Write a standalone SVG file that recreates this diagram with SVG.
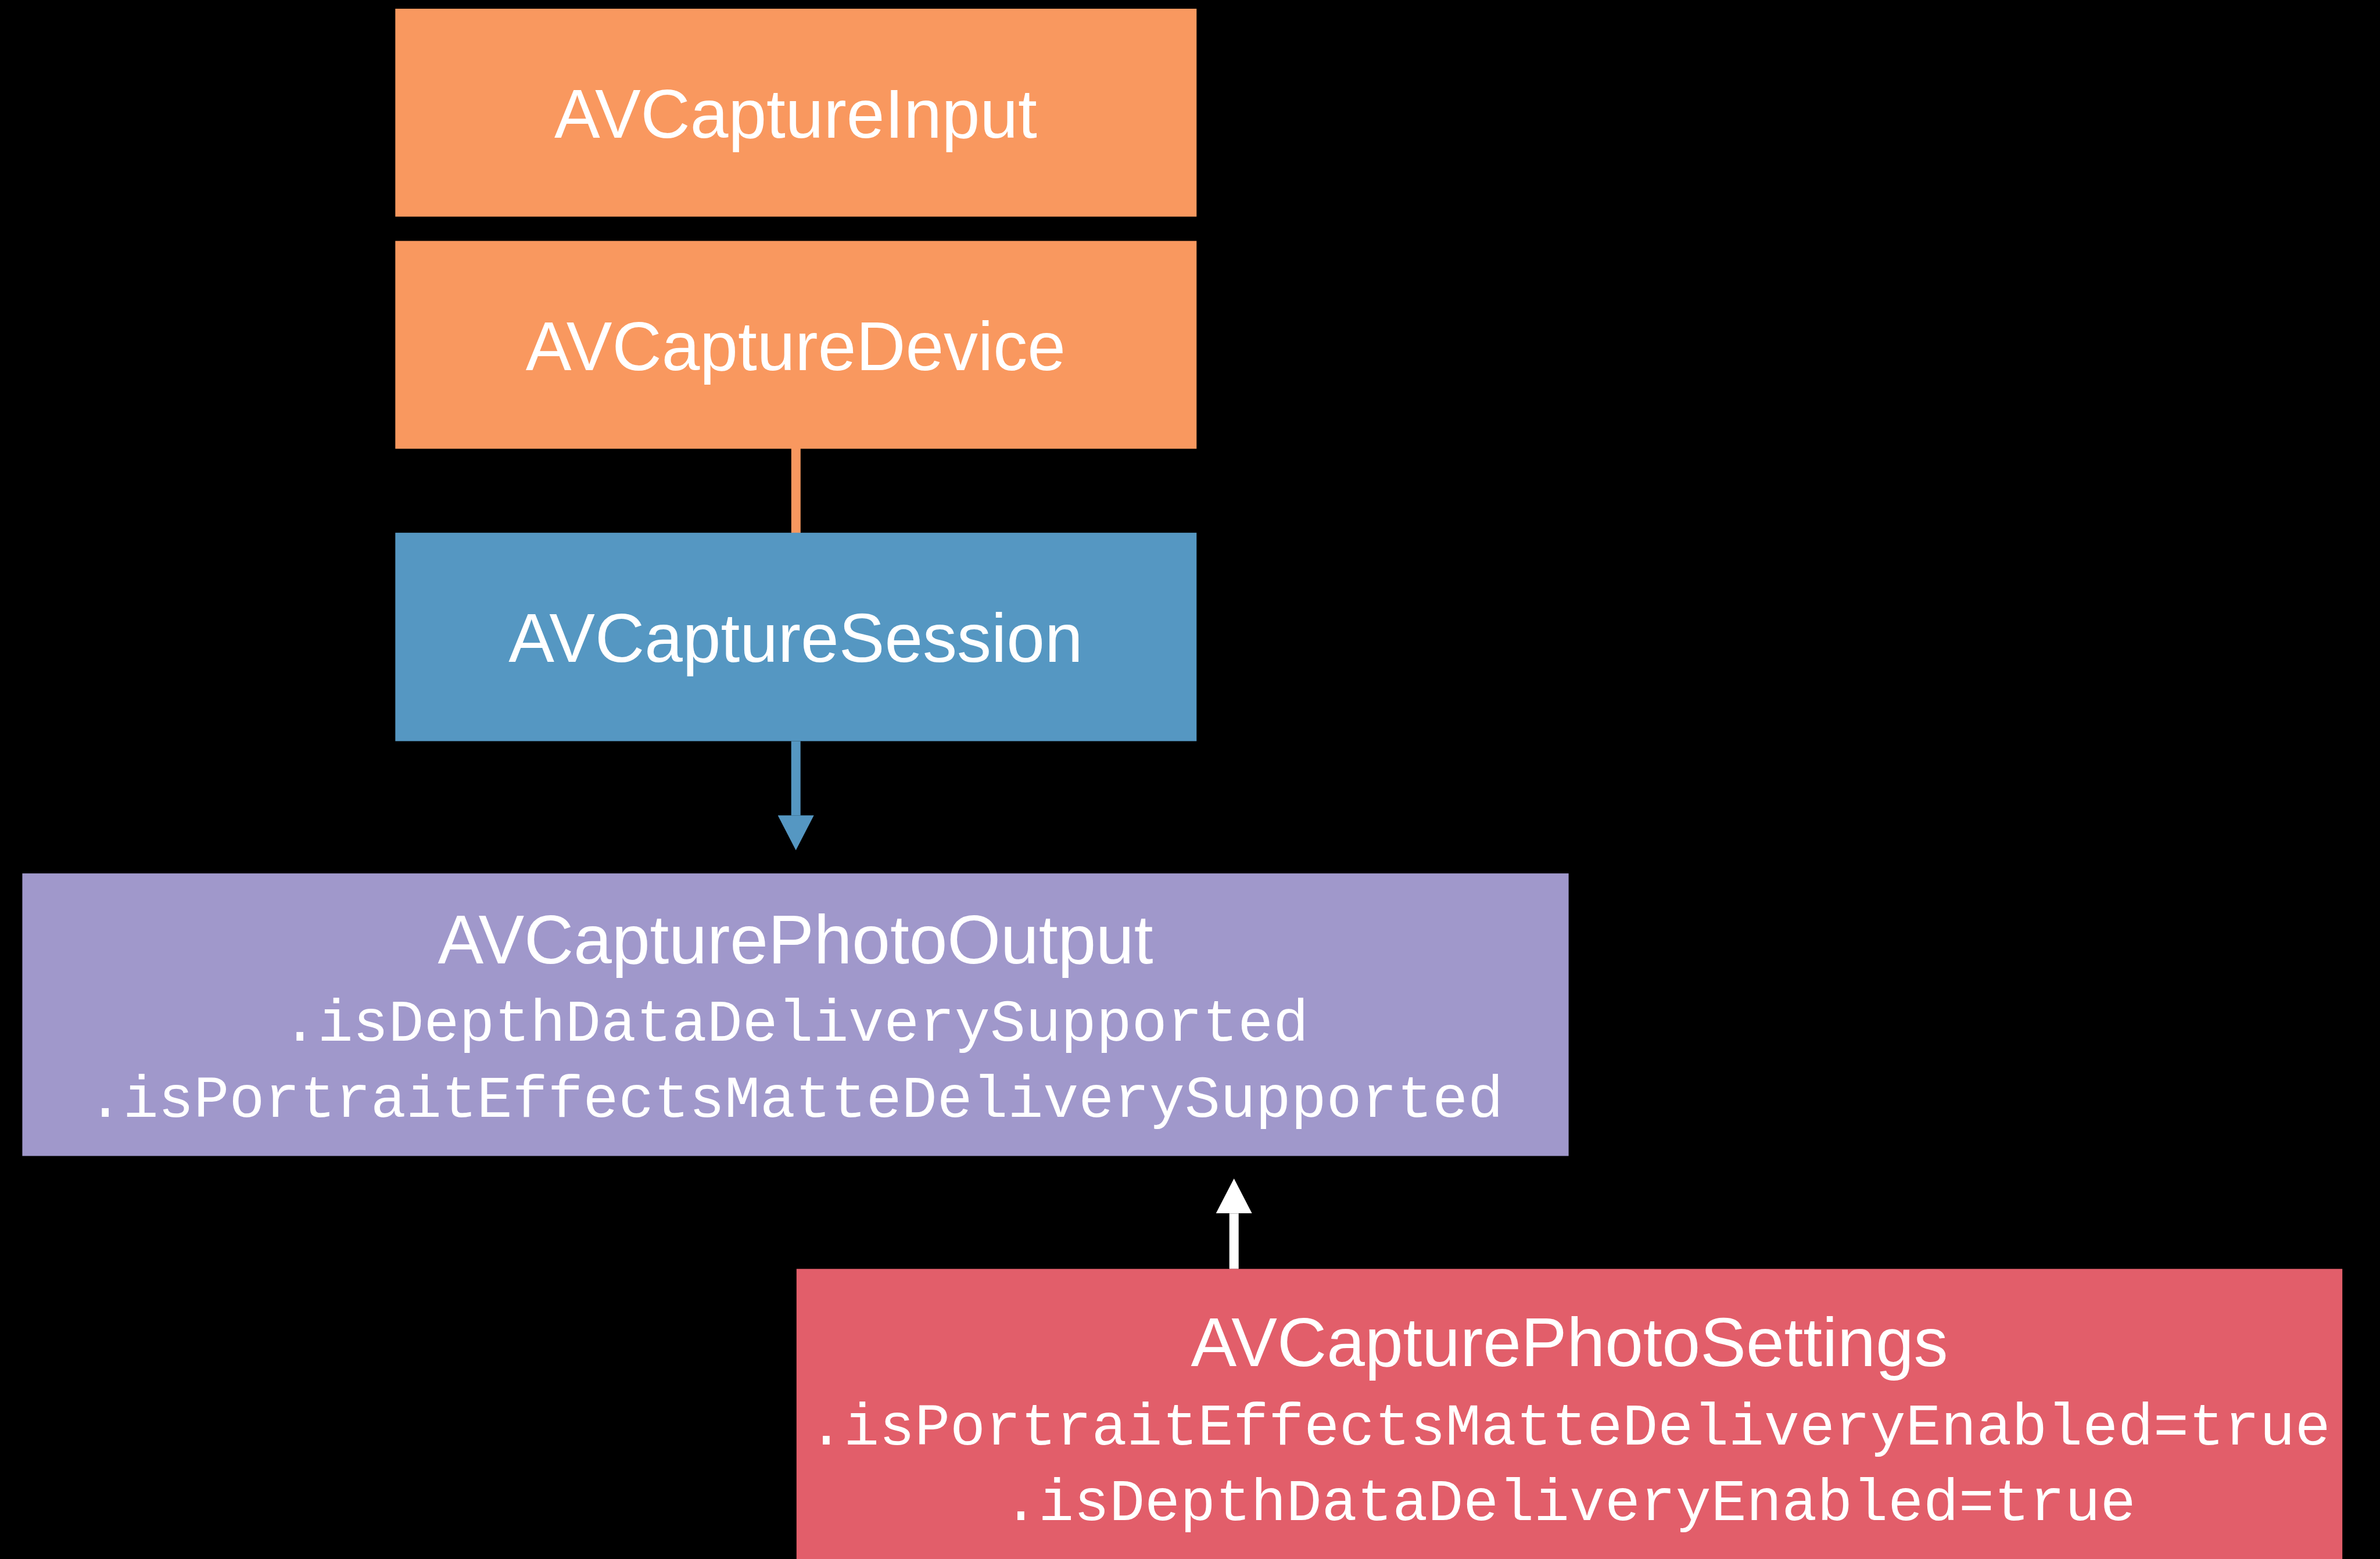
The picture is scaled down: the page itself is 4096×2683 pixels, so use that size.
<svg xmlns="http://www.w3.org/2000/svg" width="4096" height="2683" viewBox="0 0 4096 2683">
  <defs>
    <style>
      .box-input, .box-device { fill: #F9985F; }
      .box-session { fill: #5597C2; }
      .box-output { fill: #A098CB; }
      .box-settings { fill: #E25E6A; }
      .title { font-family: "Liberation Sans", Arial, sans-serif; font-size: 118px; fill: #FFFFFF; text-anchor: middle; }
      .prop { font-family: "Liberation Mono", "DejaVu Sans Mono", monospace; font-size: 101.5px; fill: #FFFFFF; text-anchor: middle; }
      .link { fill: none; stroke-width: 16; stroke-linecap: butt; }
    </style>
    <marker id="head-blue" viewBox="0 0 60 62" markerWidth="60" markerHeight="62" markerUnits="userSpaceOnUse" refX="0" refY="31" orient="auto">
      <path d="M0,0 L60,31 L0,62 Z" fill="#5597C2"/>
    </marker>
    <marker id="head-white" viewBox="0 0 60 62" markerWidth="60" markerHeight="62" markerUnits="userSpaceOnUse" refX="0" refY="31" orient="auto">
      <path d="M0,0 L60,31 L0,62 Z" fill="#FFFFFF"/>
    </marker>
  </defs>

  <rect x="0" y="0" width="4096" height="2683" fill="#000000"/>

  <g id="connectors">
    <line class="link" x1="1369.8" y1="772" x2="1369.8" y2="917" stroke="#F9985F"/>
    <line class="link" x1="1369.7" y1="1275.5" x2="1369.7" y2="1403.3" stroke="#5597C2" marker-end="url(#head-blue)"/>
    <line class="link" x1="2123.7" y1="2183.7" x2="2123.7" y2="2088.2" stroke="#FFFFFF" marker-end="url(#head-white)"/>
  </g>

  <g id="AVCaptureInput">
    <rect class="box-input" x="680.3" y="15" width="1379" height="357.8"/>
    <text class="title" x="1369.4" y="236.9">AVCaptureInput</text>
  </g>

  <g id="AVCaptureDevice">
    <rect class="box-device" x="680.3" y="414.6" width="1379" height="357.7"/>
    <text class="title" x="1369.4" y="637">AVCaptureDevice</text>
  </g>

  <g id="AVCaptureSession">
    <rect class="box-session" x="680.3" y="916.8" width="1379" height="358.7"/>
    <text class="title" x="1369.4" y="1139.3">AVCaptureSession</text>
  </g>

  <g id="AVCapturePhotoOutput">
    <rect class="box-output" x="38.4" y="1503.1" width="2661.2" height="486.3"/>
    <text class="title" x="1369" y="1657.8">AVCapturePhotoOutput</text>
    <text class="prop" x="1369" y="1791.3">.isDepthDataDeliverySupported</text>
    <text class="prop" x="1369" y="1921.9">.isPortraitEffectsMatteDeliverySupported</text>
  </g>

  <g id="AVCapturePhotoSettings">
    <rect class="box-settings" x="1370.8" y="2183.7" width="2660.4" height="500"/>
    <text class="title" x="2701" y="2351.3">AVCapturePhotoSettings</text>
    <text class="prop" x="2701" y="2485.5">.isPortraitEffectsMatteDeliveryEnabled=true</text>
    <text class="prop" x="2701" y="2615.5">.isDepthDataDeliveryEnabled=true</text>
  </g>
</svg>
